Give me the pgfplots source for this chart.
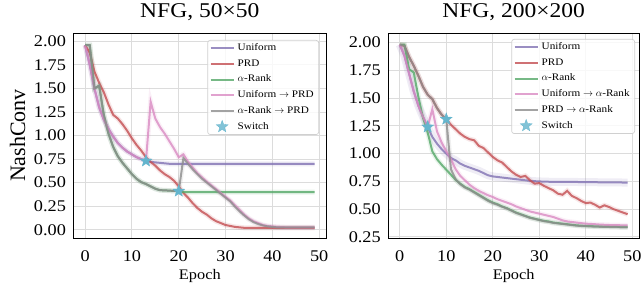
\documentclass[border=0pt]{standalone}
\usepackage{pgfplots}
\usepackage{pgfplotstable}
\pgfplotsset{compat=1.18}
\usepackage{fontspec}
\setmainfont{Liberation Serif}[FakeStretch=1.12]
\newfontfamily\plainserif{Liberation Serif}
\definecolor{cpurple}{HTML}{8172B3}
\definecolor{cred}{HTML}{C44E52}
\definecolor{cgreen}{HTML}{55A868}
\definecolor{cpink}{HTML}{DA8BC3}
\definecolor{cgray}{HTML}{8C8C8C}
\definecolor{cstar}{HTML}{64B5CD}
\definecolor{gridc}{HTML}{DCDCDC}
\definecolor{legc}{HTML}{D0D0D0}

\pgfdeclareplotmark{fstar}{%
  \pgfpathmoveto{\pgfpointpolar{90}{\pgfplotmarksize}}%
  \pgfpathlineto{\pgfpointpolar{126}{0.42\pgfplotmarksize}}%
  \pgfpathlineto{\pgfpointpolar{162}{\pgfplotmarksize}}%
  \pgfpathlineto{\pgfpointpolar{198}{0.42\pgfplotmarksize}}%
  \pgfpathlineto{\pgfpointpolar{234}{\pgfplotmarksize}}%
  \pgfpathlineto{\pgfpointpolar{270}{0.42\pgfplotmarksize}}%
  \pgfpathlineto{\pgfpointpolar{306}{\pgfplotmarksize}}%
  \pgfpathlineto{\pgfpointpolar{342}{0.42\pgfplotmarksize}}%
  \pgfpathlineto{\pgfpointpolar{18}{\pgfplotmarksize}}%
  \pgfpathlineto{\pgfpointpolar{54}{0.42\pgfplotmarksize}}%
  \pgfpathclose\pgfusepathqfillstroke}

\pgfplotstableread{
x U P A UP AP
0 1.96 1.96 1.96 1.96 1.96
1 1.75 1.88 1.96 1.75 1.96
2 1.50 1.68 1.50 1.50 1.50
3 1.30 1.56 1.53 1.30 1.53
4 1.17 1.46 1.22 1.17 1.22
5 1.07 1.33 1.02 1.07 1.02
6 0.99 1.22 0.88 0.99 0.88
7 0.92 1.18 0.78 0.92 0.78
8 0.87 1.12 0.71 0.87 0.71
9 0.83 1.05 0.65 0.83 0.65
10 0.80 0.97 0.59 0.80 0.59
11 0.77 0.90 0.54 0.77 0.54
12 0.75 0.84 0.505 0.75 0.505
13 0.73 0.77 0.485 0.73 0.485
14 0.72 0.72 0.46 1.36 0.46
15 0.715 0.68 0.435 1.18 0.435
16 0.71 0.63 0.42 1.09 0.42
17 0.705 0.59 0.418 1.02 0.418
18 0.70 0.56 0.415 0.94 0.415
19 0.70 0.52 0.412 0.86 0.412
20 0.70 0.46 0.41 0.77 0.41
21 0.70 0.39 0.40 0.80 0.76
22 0.70 0.34 0.40 0.72 0.70
23 0.70 0.28 0.40 0.66 0.64
24 0.70 0.23 0.40 0.60 0.59
25 0.70 0.19 0.40 0.555 0.54
26 0.70 0.16 0.40 0.51 0.50
27 0.70 0.12 0.40 0.47 0.46
28 0.70 0.09 0.40 0.43 0.42
29 0.70 0.07 0.40 0.39 0.38
30 0.70 0.05 0.40 0.35 0.34
31 0.70 0.04 0.40 0.31 0.30
32 0.70 0.03 0.40 0.26 0.245
33 0.70 0.025 0.40 0.21 0.195
34 0.70 0.02 0.40 0.16 0.15
35 0.70 0.02 0.40 0.12 0.11
36 0.70 0.02 0.40 0.09 0.08
37 0.70 0.02 0.40 0.07 0.06
38 0.70 0.02 0.40 0.05 0.045
39 0.70 0.02 0.40 0.04 0.035
40 0.70 0.02 0.40 0.035 0.03
41 0.70 0.02 0.40 0.03 0.025
42 0.70 0.02 0.40 0.028 0.025
43 0.70 0.02 0.40 0.025 0.025
44 0.70 0.02 0.40 0.025 0.025
45 0.70 0.02 0.40 0.025 0.025
46 0.70 0.02 0.40 0.025 0.025
47 0.70 0.02 0.40 0.025 0.025
48 0.70 0.02 0.40 0.025 0.025
49 0.70 0.02 0.40 0.025 0.025
}\leftdata

\pgfplotstableread{
x U P A UA PA
0 1.98 1.98 1.98 1.98 1.98
1 1.88 1.97 1.98 1.88 1.97
2 1.72 1.87 1.76 1.72 1.87
3 1.56 1.79 1.73 1.56 1.79
4 1.43 1.70 1.51 1.43 1.70
5 1.33 1.60 1.32 1.33 1.60
6 1.24 1.53 1.19 1.24 1.53
7 1.15 1.49 1.02 1.40 1.49
8 1.09 1.41 0.95 1.20 1.41
9 1.04 1.35 0.90 1.10 1.35
10 1.00 1.31 0.855 1.02 1.31
11 0.96 1.26 0.81 0.95 0.86
12 0.94 1.22 0.765 0.86 0.77
13 0.91 1.18 0.73 0.80 0.725
14 0.89 1.15 0.70 0.76 0.695
15 0.875 1.13 0.68 0.72 0.675
16 0.86 1.12 0.655 0.69 0.65
17 0.845 1.07 0.63 0.665 0.625
18 0.825 1.05 0.605 0.645 0.60
19 0.805 1.01 0.58 0.625 0.575
20 0.795 0.97 0.56 0.61 0.555
21 0.79 0.94 0.545 0.59 0.54
22 0.785 0.92 0.525 0.575 0.522
23 0.78 0.88 0.51 0.56 0.507
24 0.775 0.84 0.49 0.545 0.487
25 0.77 0.81 0.47 0.525 0.467
26 0.765 0.79 0.455 0.51 0.452
27 0.76 0.80 0.44 0.495 0.437
28 0.755 0.76 0.425 0.48 0.422
29 0.752 0.73 0.415 0.47 0.412
30 0.75 0.735 0.405 0.46 0.402
31 0.748 0.71 0.395 0.45 0.392
32 0.747 0.69 0.39 0.44 0.386
33 0.746 0.67 0.38 0.43 0.377
34 0.745 0.64 0.375 0.415 0.372
35 0.745 0.63 0.37 0.40 0.367
36 0.745 0.665 0.365 0.39 0.362
37 0.745 0.62 0.36 0.385 0.357
38 0.745 0.60 0.355 0.38 0.352
39 0.744 0.575 0.352 0.375 0.349
40 0.744 0.555 0.35 0.37 0.347
41 0.743 0.56 0.348 0.368 0.345
42 0.743 0.54 0.346 0.365 0.343
43 0.742 0.515 0.345 0.362 0.342
44 0.742 0.535 0.344 0.36 0.341
45 0.742 0.52 0.343 0.358 0.340
46 0.741 0.50 0.343 0.357 0.339
47 0.741 0.485 0.342 0.356 0.338
48 0.740 0.47 0.342 0.355 0.337
49 0.740 0.455 0.341 0.355 0.336
}\rightdata

\pgfplotsset{
  base/.style={
    scale only axis, height=205pt,
    xmin=-2.45, xmax=51.45,
    xtick={0,10,20,30,40,50},
    grid=major, major grid style={color=gridc, line width=1pt},
    axis line style={black, line width=0.9pt},
    major tick length=0pt,
    /pgf/number format/assume math mode=true,
    tick label style={font=\fontsize{16.3}{18}\selectfont},
    xticklabel style={anchor=base, yshift=-23.7pt, inner sep=0pt},
    yticklabel style={anchor=east, xshift=-7.5pt, inner sep=0pt},
    yticklabel={\pgfmathprintnumber[fixed,fixed zerofill,precision=2]{\tick}},
    title style={at={(0.5,1)}, anchor=base, yshift=9pt, font=\fontsize{21}{24}\selectfont},
    xlabel={Epoch},
    xlabel style={at={(axis description cs:0.5,0)}, anchor=base, yshift=-41.3pt, font=\fontsize{14.6}{16}\selectfont},
    legend cell align=left,
    legend image code/.code={\draw[mark repeat=2,mark phase=2,##1] plot coordinates {(0pt,0pt) (11.5pt,0pt) (23pt,0pt)};},
    legend style={anchor=north east, draw=legc, line width=0.7pt, rounded corners=2.5pt,
      fill=white, fill opacity=0.8, text opacity=1,
      font=\fontsize{10}{12}\selectfont, inner xsep=2pt, inner ysep=0pt, row sep=0pt,
      nodes={inner xsep=3pt, inner ysep=3pt, text height=7.2pt, text depth=2.5pt}},
  },
  ln/.style={line width=2pt, opacity=0.8, #1},
  band/.style={forget plot, line width=5pt, opacity=0.13, draw=#1},
}

\begin{document}
\begin{tikzpicture}
\useasboundingbox (0,0) rectangle (641pt,284pt);
\begin{axis}[base, at={(73.6pt,46pt)}, anchor=south west, width=252.4pt,
  ymin=-0.088, ymax=2.089, ytick={0,0.25,0.5,0.75,1,1.25,1.5,1.75,2},
  title={NFG, 50×50},
  ylabel={NashConv},
  ylabel style={at={(axis description cs:-0.2223,0.5)}, anchor=center, font=\plainserif\fontsize{22}{24}\selectfont},
  legend style={at={(1,1)}, xshift=-7pt, yshift=-7pt}]
\addplot[band=cpurple] table[x=x,y=U]{\leftdata};
\addplot[band=cred] table[x=x,y=P]{\leftdata};
\addplot[band=cgreen] table[x=x,y=A]{\leftdata};
\addplot[band=cpink] table[x=x,y=UP]{\leftdata};
\addplot[band=cgray] table[x=x,y=AP]{\leftdata};
\addplot[ln=cpurple] table[x=x,y=U]{\leftdata};
\addlegendentry{Uniform}
\addplot[ln=cred] table[x=x,y=P]{\leftdata};
\addlegendentry{PRD}
\addplot[ln=cgreen] table[x=x,y=A]{\leftdata};
\addlegendentry{$\alpha$-Rank}
\addplot[ln=cpink] table[x=x,y=UP]{\leftdata};
\addlegendentry{Uniform $\rightarrow$ PRD}
\addplot[ln=cgray] table[x=x,y=AP]{\leftdata};
\addlegendentry{$\alpha$-Rank $\rightarrow$ PRD}
\addplot[only marks, mark=fstar, mark size=6.3pt, mark options={fill=cstar, draw=cstar, line width=0.3pt}] coordinates {(13,0.73) (20,0.41)};
\addlegendentry{Switch}
\end{axis}
\begin{axis}[base, at={(388.4pt,46pt)}, anchor=south west, width=250.6pt,
  ymin=0.241, ymax=2.085, ytick={0.25,0.5,0.75,1,1.25,1.5,1.75,2},
  title={NFG, 200×200},
  legend style={at={(1,1)}, xshift=-4pt, yshift=-6pt}]
\addplot[band=cpurple, line width=8pt] table[x=x,y=U]{\rightdata};
\addplot[band=cred] table[x=x,y=P]{\rightdata};
\addplot[band=cgreen] table[x=x,y=A]{\rightdata};
\addplot[band=cpink] table[x=x,y=UA]{\rightdata};
\addplot[band=cgray] table[x=x,y=PA]{\rightdata};
\addplot[ln=cpurple] table[x=x,y=U]{\rightdata};
\addlegendentry{Uniform}
\addplot[ln=cred] table[x=x,y=P]{\rightdata};
\addlegendentry{PRD}
\addplot[ln=cgreen] table[x=x,y=A]{\rightdata};
\addlegendentry{$\alpha$-Rank}
\addplot[ln=cpink] table[x=x,y=UA]{\rightdata};
\addlegendentry{Uniform $\rightarrow$ $\alpha$-Rank}
\addplot[ln=cgray] table[x=x,y=PA]{\rightdata};
\addlegendentry{PRD $\rightarrow$ $\alpha$-Rank}
\addplot[only marks, mark=fstar, mark size=6.3pt, mark options={fill=cstar, draw=cstar, line width=0.3pt}] coordinates {(6,1.24) (10,1.31)};
\addlegendentry{Switch}
\end{axis}
\end{tikzpicture}
\end{document}
